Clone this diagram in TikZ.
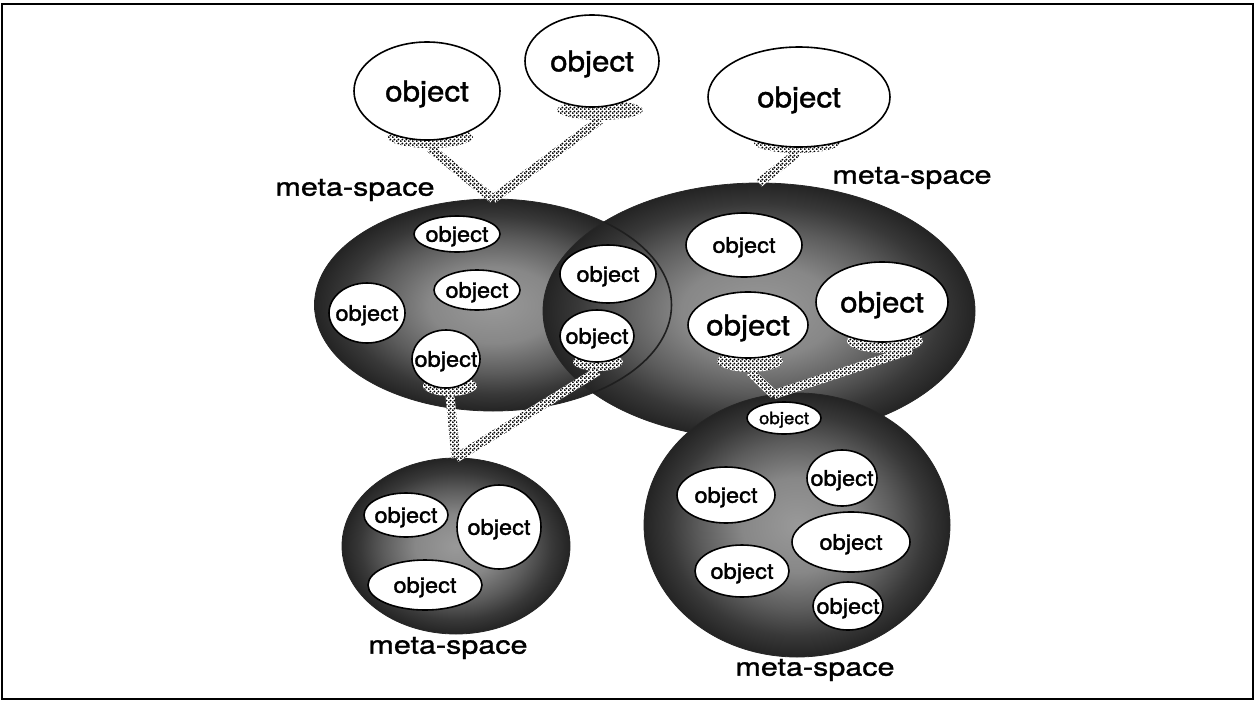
\documentclass[tikz,border=0pt]{standalone}
\usepackage{fontspec}
\setmainfont{TeX Gyre Heros}[FakeStretch=1.1, FakeBold=1.4]
\newfontfamily\labelfont{TeX Gyre Heros}[FakeStretch=1.22, FakeBold=1.2]
\usetikzlibrary{shapes.geometric,calc,patterns}

% halftone-like dot screen for the links
\pgfdeclarepatternformonly{stipple}{\pgfqpoint{0pt}{0pt}}{\pgfqpoint{4pt}{4pt}}{\pgfqpoint{4pt}{4pt}}{%
  \pgfpathcircle{\pgfqpoint{1pt}{1pt}}{1.25pt}%
  \pgfpathcircle{\pgfqpoint{3pt}{3pt}}{1.25pt}%
  \pgfusepath{fill}}

% medium core, dark rim
\pgfdeclareradialshading{metashade}{\pgfpointorigin}{%
  color(0bp)=(black!40); color(9bp)=(black!47); color(16bp)=(black!64);
  color(21bp)=(black!78); color(25bp)=(black!86); color(50bp)=(black!86)}

% text centred on the node without widening it
\newcommand\objtext[1]{\makebox[0pt]{\raisebox{-0.36em}[0pt][0pt]{#1}}}

% band of dots from one point to another
\newcommand\stipband[2]{%
  \path[stipfill] ($(#1)!4.5pt!90:(#2)$) -- ($(#2)!4.5pt!-90:(#1)$)
     -- ($(#2)!4.5pt!90:(#1)$) -- ($(#1)!4.5pt!-90:(#2)$) -- cycle;}

\tikzset{
  frame/.style={draw=black, line width=1.6pt},
  metaspace/.style={ellipse, inner sep=0pt, outer sep=0pt, draw=black!85,
    line width=0.8pt, shade, shading=metashade},
  obj/.style={ellipse, inner sep=0pt, outer sep=0pt, draw=black,
    line width=1.6pt, fill=white, font=\fontsize{21.5}{24}\selectfont},
  objbig/.style={obj, font=\fontsize{28.5}{32}\selectfont},
  objsmall/.style={obj, font=\fontsize{17}{20}\selectfont},
  stipfill/.style={fill=white, postaction={pattern=stipple, pattern color=black}},
  stipshadow/.style={ellipse, inner sep=0pt, outer sep=0pt, stipfill},
  spacelabel/.style={font=\labelfont\fontsize{25}{28}\selectfont, inner sep=0pt},
}

\begin{document}
\begin{tikzpicture}[x=1pt, y=-1pt]
\useasboundingbox (0,0) rectangle (1255,702);
\draw[frame] (2,4) rectangle (1253,699);

% meta-spaces
\node[metaspace, minimum width=357pt, minimum height=212pt] (A) at (493,305) {};
\node[metaspace, minimum width=432pt, minimum height=256pt] (B) at (759,311) {};
\begin{scope}
  \clip (B.center) ellipse [x radius=216pt, y radius=128pt];
  \draw[black!88, line width=1.6pt] (A.center) ellipse [x radius=178.5pt, y radius=106pt];
\end{scope}
\node[metaspace, minimum width=306pt, minimum height=264pt] (D) at (797,525) {};
\node[metaspace, minimum width=228pt, minimum height=176pt] (C) at (456,546) {};

% dotted shadows under the linked objects
\node[stipshadow, minimum width=86pt, minimum height=22pt] (o1sh) at (430,137) {};
\node[stipshadow, minimum width=86pt, minimum height=20pt] (o2sh) at (600,110) {};
\node[stipshadow, minimum width=86pt, minimum height=20pt] (o3sh) at (797,143) {};
\node[stipshadow, minimum width=54pt, minimum height=20pt] (a4sh) at (450,386) {};
\node[stipshadow, minimum width=50pt, minimum height=18pt] (a6sh) at (598,362) {};
\node[stipshadow, minimum width=66pt, minimum height=22pt] (b2sh) at (750,361) {};
\node[stipshadow, minimum width=76pt, minimum height=24pt] (b3sh) at (885,341) {};

% links
\stipband{o1sh.south}{A.north}
\stipband{o2sh.south}{A.north}
\stipband{o3sh.south}{B.north}
\stipband{a4sh.south}{C.north}
\stipband{a6sh.south}{C.north}
\stipband{b2sh.south}{D.100}
\stipband{b3sh.south east}{D.100}

% free objects
\node[objbig, minimum width=146pt, minimum height=98pt] (o1) at (427,91) {\objtext{object}};
\node[objbig, minimum width=134pt, minimum height=92pt] (o2) at (592,61) {\objtext{object}};
\node[objbig, minimum width=182pt, minimum height=100pt] (o3) at (799,97) {\objtext{object}};

% objects of the left meta-space
\node[obj, minimum width=86pt, minimum height=36pt] (a1) at (457,234) {\objtext{object}};
\node[obj, minimum width=86pt, minimum height=40pt] (a2) at (477,290) {\objtext{object}};
\node[obj, minimum width=76pt, minimum height=60pt] (a3) at (367,313) {\objtext{object}};
\node[obj, minimum width=68pt, minimum height=58pt] (a4) at (446,359) {\objtext{object}};
\node[obj, minimum width=96pt, minimum height=58pt] (a5) at (608,274) {\objtext{object}};
\node[obj, minimum width=74pt, minimum height=52pt] (a6) at (597,336) {\objtext{object}};

% objects of the right meta-space
\node[obj, minimum width=116pt, minimum height=64pt] (b1) at (744,245) {\objtext{object}};
\node[objbig, minimum width=120pt, minimum height=66pt] (b2) at (748,325) {\objtext{object}};
\node[objbig, minimum width=132pt, minimum height=80pt] (b3) at (882,302) {\objtext{object}};

% objects of the lower left meta-space
\node[obj, minimum width=84pt, minimum height=44pt] (c1) at (406,515) {\objtext{object}};
\node[obj, minimum width=84pt, minimum height=84pt] (c2) at (499,527) {\objtext{object}};
\node[obj, minimum width=114pt, minimum height=50pt] (c3) at (425,585) {\objtext{object}};

% objects of the lower right meta-space
\node[objsmall, minimum width=74pt, minimum height=32pt] (d1) at (784,418) {\objtext{object}};
\node[obj, minimum width=70pt, minimum height=56pt] (d2) at (842,478) {\objtext{object}};
\node[obj, minimum width=98pt, minimum height=56pt] (d3) at (726,495) {\objtext{object}};
\node[obj, minimum width=118pt, minimum height=60pt] (d4) at (851,542) {\objtext{object}};
\node[obj, minimum width=94pt, minimum height=52pt] (d5) at (742,571) {\objtext{object}};
\node[obj, minimum width=70pt, minimum height=48pt] (d6) at (848,606) {\objtext{object}};

% labels
\node[spacelabel] (lA) at (355,190) {meta-space};
\node[spacelabel] (lB) at (912,178) {meta-space};
\node[spacelabel] (lC) at (448,648) {meta-space};
\node[spacelabel] (lD) at (815,670) {meta-space};
\end{tikzpicture}
\end{document}
